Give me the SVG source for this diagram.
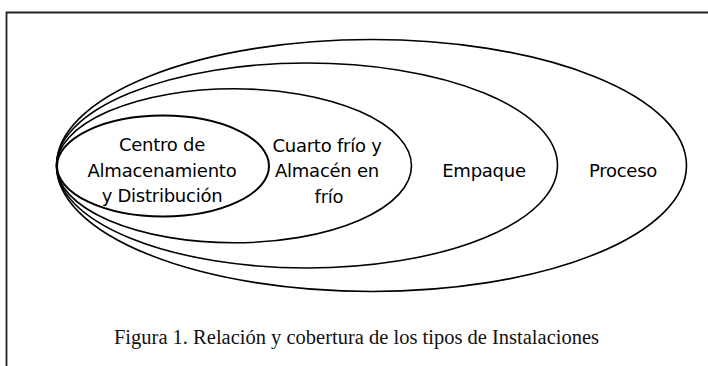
<svg xmlns="http://www.w3.org/2000/svg" width="708" height="366" viewBox="0 0 708 366">
<style>
.ring{fill:none;stroke:#000;stroke-width:1.6}
.inner{fill:none;stroke:#000;stroke-width:2}
.lbl{font-family:"DejaVu Sans",Verdana,sans-serif;font-size:18px;letter-spacing:-0.25px;fill:#000;text-anchor:middle}
.cap{font-family:"Liberation Serif","Times New Roman",serif;font-size:20.5px;fill:#111;text-anchor:middle}
</style>
<rect width="708" height="366" fill="#fff"/>
<path d="M6.5,366 V12.5 H708" fill="none" stroke="#222" stroke-width="1.8"/>
<g id="proceso">
<ellipse class="ring" cx="371.5" cy="165.5" rx="315" ry="126"/>
<text class="lbl" x="623" y="177">Proceso</text>
</g>
<g id="empaque">
<ellipse class="ring" cx="307" cy="165.5" rx="250.5" ry="102.5"/>
<text class="lbl" x="484" y="177">Empaque</text>
</g>
<g id="cuarto-frio">
<ellipse class="ring" cx="234" cy="165.8" rx="177.5" ry="77"/>
<text class="lbl" x="327" y="151.5">Cuarto frío y</text>
<text class="lbl" x="327" y="177">Almacén en</text>
<text class="lbl" x="329" y="202.5">frío</text>
</g>
<g id="centro">
<ellipse class="inner" cx="163" cy="166" rx="106" ry="50.5"/>
<text class="lbl" x="162" y="151">Centro de</text>
<text class="lbl" x="162" y="176.5">Almacenamiento</text>
<text class="lbl" x="162" y="202">y Distribución</text>
</g>
<g id="connectors"></g>
<text class="cap" x="356.5" y="343.5">Figura 1. Relación y cobertura de los tipos de Instalaciones</text>
</svg>
